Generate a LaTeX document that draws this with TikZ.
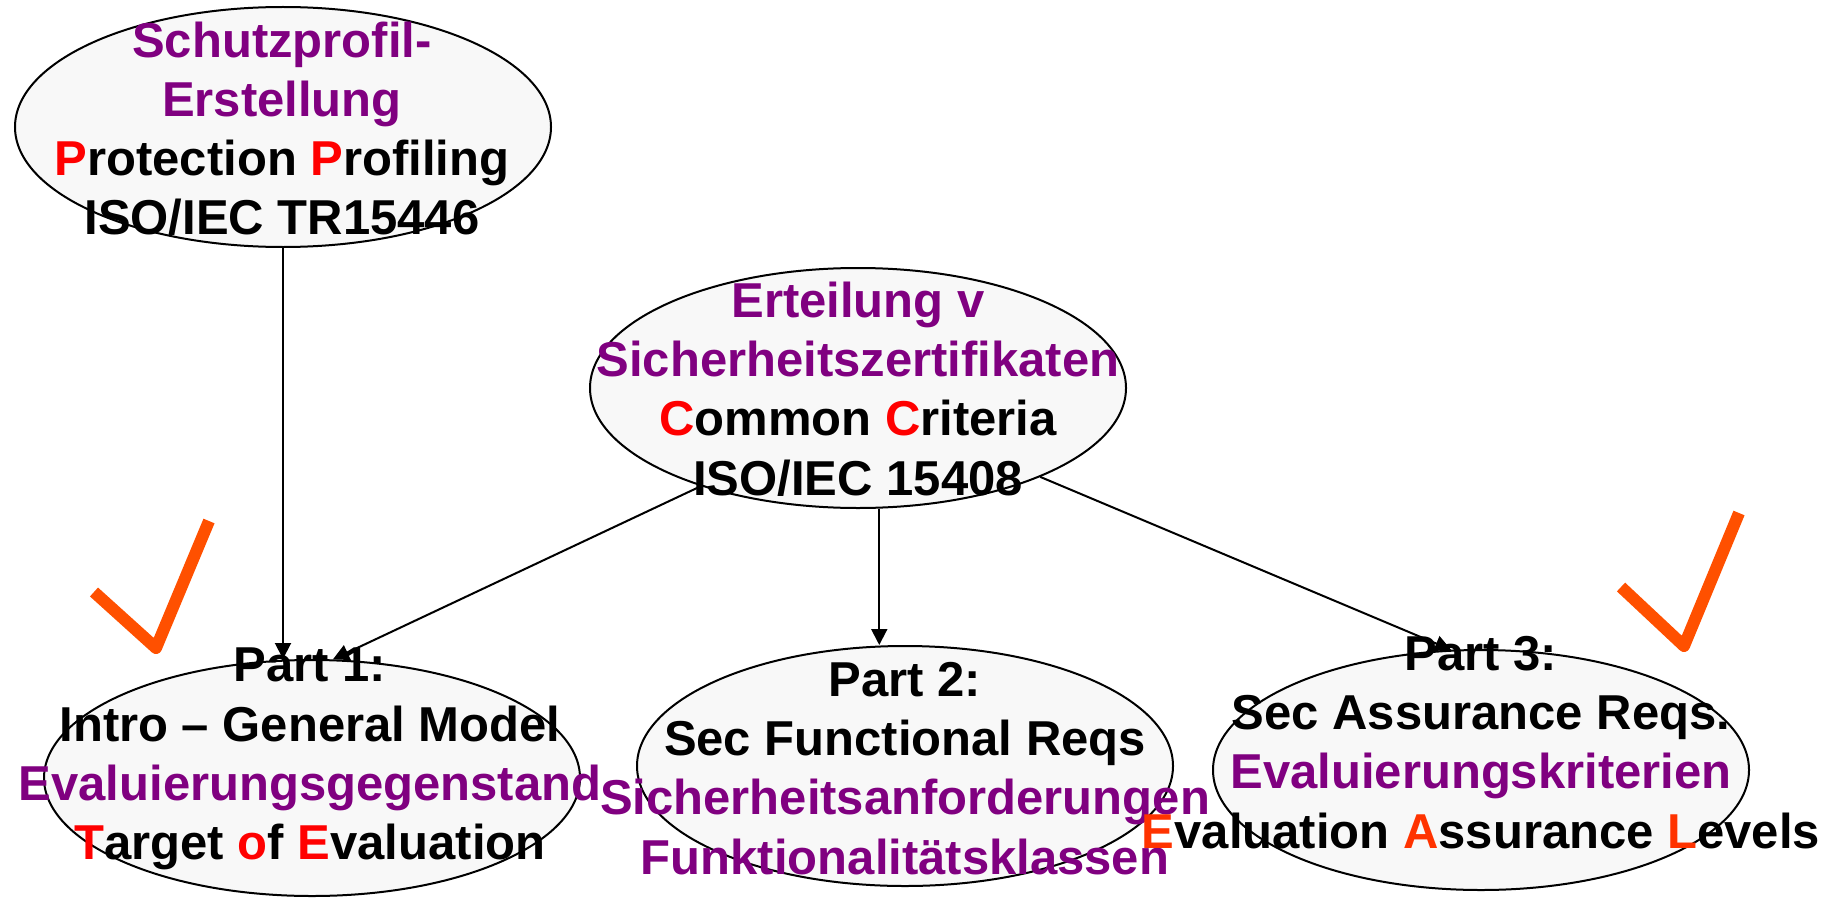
\documentclass[tikz,border=0pt]{standalone}
\usepackage{fontspec}
\setmainfont{Liberation Sans}
\usetikzlibrary{shapes.geometric,arrows.meta}

\definecolor{lila}{RGB}{128,0,128}
\definecolor{hired}{RGB}{255,0,0}
\definecolor{orred}{RGB}{255,51,0}
\definecolor{checkorange}{RGB}{255,80,0}
\definecolor{bubblefill}{RGB}{248,248,248}

\newcommand{\pu}[1]{\textcolor{lila}{#1}}
\newcommand{\rd}[1]{\textcolor{hired}{#1}}
\newcommand{\og}[1]{\textcolor{orred}{#1}}

\begin{document}
\begin{tikzpicture}[x=0.5pt,y=-0.5pt,
  bubble/.style={ellipse, draw=black, line width=1pt, fill=bubblefill,
    minimum width=268pt, minimum height=120pt, inner sep=0pt},
  txt/.style={align=center, inner sep=0pt,
    font=\fontsize{24.5pt}{29.6pt}\selectfont\bfseries},
  conn/.style={line width=1pt, -{Triangle[length=8pt,width=8pt]}},
  tickmark/.style={draw=checkorange, line width=6pt, line join=round, line cap=butt}]

\useasboundingbox (0,0) rectangle (1841,899);

% ellipses
\node[bubble] (sp) at (283,127) {};
\node[bubble] (cc) at (858,388) {};
\node[bubble, minimum height=118pt] (p1) at (312,778) {};
\node[bubble] (p2) at (905,766) {};
\node[bubble] (p3) at (1481,770) {};

% connectors
\draw[conn] (sp.south) -- (sp.south |- p1.north);
\draw[conn] (cc.212.6) -- (p1.80.7);
\draw[conn] (cc.-80.5) -- (cc.-80.5 |- p2.north);
\draw[conn] (cc.-26.3) -- (p3.104);

% labels
\node[txt] (tsp) at (282,128.7)
  {\pu{Schutzprofil-}\\\pu{Erstellung}\\\rd{P}rotection \rd{P}rofiling\\ISO/IEC TR15446};
\node[txt] (tcc) at (858,389)
  {\pu{Erteilung v}\\\pu{Sicherheitszertifikaten}\\\rd{C}ommon \rd{C}riteria\\ISO/IEC 15408};
\node[txt] (tp1) at (310,759)
  {Part 1:\\Intro – General Model\\\pu{Evaluierungsgegenstand}\\\rd{T}arget \rd{o}f \rd{E}valuation};
\node[txt] (tp2) at (905,768.5)
  {Part 2:\\Sec Functional Reqs\\\pu{Sicherheitsanforderungen}\\\pu{Funktionalitätsklassen}};
\node[txt] (tp3) at (1481,742.5)
  {Part 3:\\Sec Assurance Reqs.\\\pu{Evaluierungskriterien}\\\og{E}valuation \og{A}ssurance \og{L}evels};

% check marks
\draw[tickmark] (94,592) -- (156,648) -- (209,521);
\draw[tickmark] (1621,587) -- (1684,646) -- (1739,513);

\end{tikzpicture}
\end{document}
